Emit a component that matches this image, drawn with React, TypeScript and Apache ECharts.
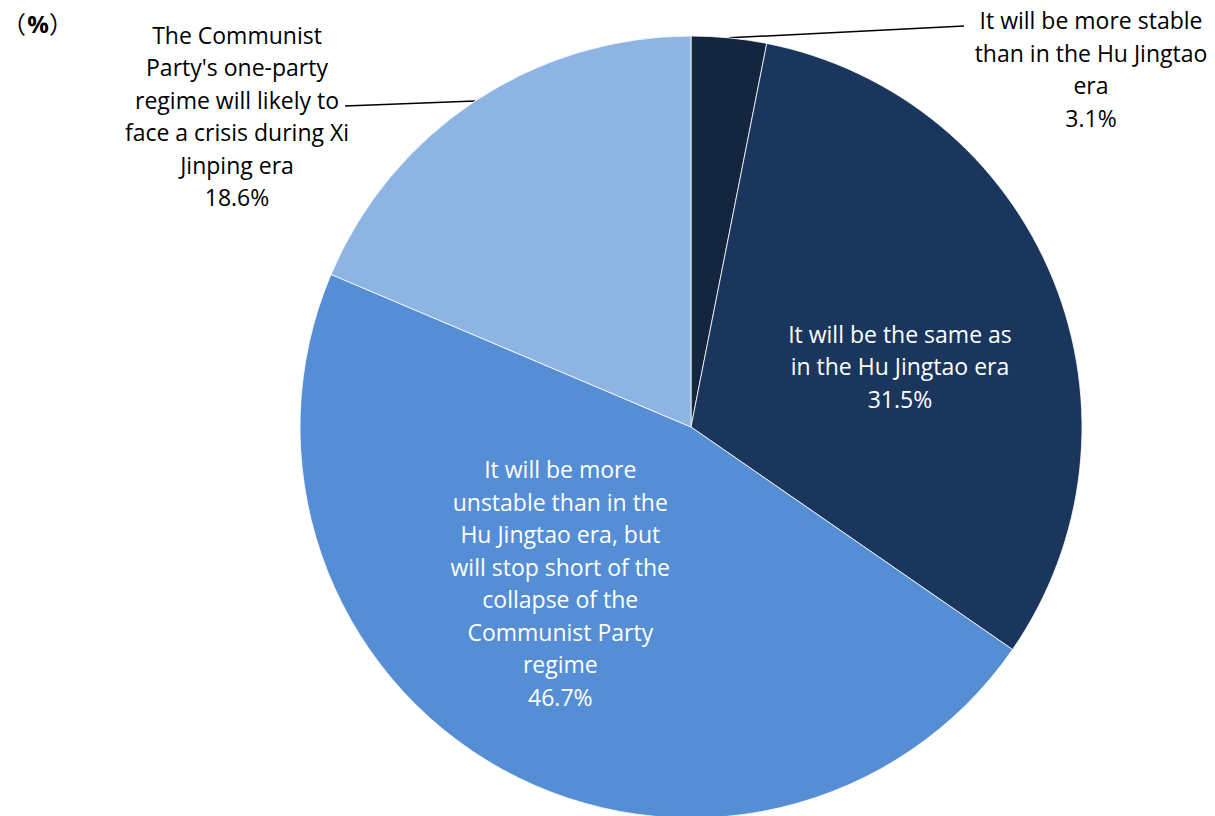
import React, { useEffect, useRef } from "react";
import * as echarts from "echarts";

const categories = [
  "It will be more stable\nthan in the Hu Jingtao\nera",
  "It will be the same as\nin the Hu Jingtao era",
  "It will be more\nunstable than in the\nHu Jingtao era, but\nwill stop short of the\ncollapse of the\nCommunist Party\nregime",
  "The Communist\nParty's one-party\nregime will likely to\nface a crisis during Xi\nJinping era",
];
const values = [3.1, 31.5, 46.7, 18.6];
const colors = ["#14253f", "#1b365d", "#558ed5", "#8eb4e3"];

const W = 1215;
const H = 816;
const CX = 691;
const CY = 427;
const R = 391;
const FONT = "Open Sans";

export default function App() {
  const ref = useRef<HTMLDivElement>(null);
  useEffect(() => {
    document.body.style.margin = "0";
    if (!ref.current) return;
    const chart = echarts.init(ref.current, null, { renderer: "svg" });
    const total = values.reduce((a, b) => a + b, 0);
    const edgePoint = (idx: number) => {
      let cum = 0;
      for (let i = 0; i < idx; i++) cum += values[i];
      const mid = ((cum + values[idx] / 2) / total) * Math.PI * 2;
      return [CX + R * Math.sin(mid), CY - R * Math.cos(mid)];
    };
    const outside: Record<number, { x: number; y: number; end: number[] }> = {
      0: { x: 1091, y: 69, end: [964, 26] },
      3: { x: 237, y: 116, end: [345, 106] },
    };
    const insideShift: Record<number, { dx: number; dy: number }> = {
      1: { dx: 25, dy: 14 },
      2: { dx: -35, dy: -18 },
    };
    const data = values.map((v, i) => {
      const isOut = i === 0 || i === 3;
      return {
        name: categories[i],
        value: v,
        itemStyle: { color: colors[i] },
        label: {
          show: true,
          position: isOut ? "outside" : "inside",
          color: isOut ? "#000000" : "#ffffff",
        },
        labelLine: { show: isOut },
      };
    });
    const parenStyle = {
      font: '24px "Noto Sans CJK JP"',
      fill: "#000",
      textVerticalAlign: "middle",
      textAlign: "center",
    };
    chart.setOption({
      animation: false,
      graphic: [
        { type: "text", x: 14, y: 22, style: { ...parenStyle, text: "（" } },
        {
          type: "text",
          x: 38,
          y: 23,
          style: {
            text: "%",
            font: 'bold 24px "Open Sans"',
            fill: "#000",
            textVerticalAlign: "middle",
            textAlign: "center",
          },
        },
        { type: "text", x: 61, y: 22, style: { ...parenStyle, text: "）" } },
      ],
      series: [
        {
          type: "pie",
          center: [CX, CY],
          radius: [0, R],
          startAngle: 90,
          clockwise: true,
          avoidLabelOverlap: false,
          itemStyle: { borderColor: "#ffffff", borderWidth: 0.8 },
          label: {
            formatter: "{b}\n{c}%",
            fontFamily: FONT,
            fontSize: 23,
            lineHeight: 32.5,
            align: "center",
          },
          labelLine: { lineStyle: { color: "#000", width: 1.5 }, length: 10, length2: 10 },
          labelLayout: (params: any) => {
            const i = params.dataIndex;
            if (outside[i]) {
              const o = outside[i];
              const s = edgePoint(i);
              return {
                x: o.x,
                y: o.y,
                align: "center",
                verticalAlign: "middle",
                labelLinePoints: [s, o.end, o.end],
              };
            }
            if (insideShift[i]) return insideShift[i];
            return {};
          },
          data,
        },
      ],
    });
    return () => chart.dispose();
  }, []);
  return <div ref={ref} style={{ width: W, height: H }} />;
}
